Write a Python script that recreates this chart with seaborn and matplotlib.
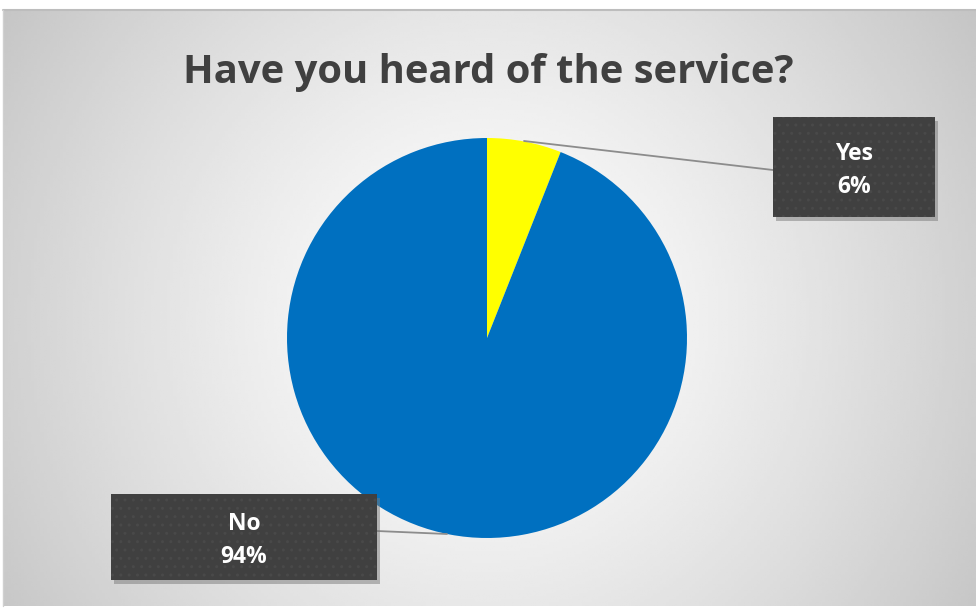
import numpy as np
import matplotlib
matplotlib.use('Agg')
import matplotlib.pyplot as plt
import seaborn as sns
from matplotlib.patches import Rectangle

# Dados
categorias = ['Yes', 'No']
percentuais = [6, 94]
cores = ['#FFFF00', '#0070C0']
titulo = 'Have you heard of the service?'

sns.set_style('white')
plt.rcParams['font.family'] = ['Open Sans', 'DejaVu Sans']

W, H = 976, 610
fig = plt.figure(figsize=(W / 100, H / 100), dpi=100)
fig.patch.set_facecolor('white')

# fundo com gradiente radial (area do grafico)
x0, y0, x1, y1 = 3, 10, 976, 606
ax = fig.add_axes([0, 0, 1, 1])
ax.set_xlim(0, W)
ax.set_ylim(0, H)
ax.axis('off')

xx, yy = np.meshgrid(np.linspace(x0, x1, 300), np.linspace(y0, y1, 200))
d = np.sqrt((xx - 487) ** 2 + (yy - 320) ** 2)
d = d / d.max()
grad = 255 - 58 * d ** 1.3
ax.imshow(grad, cmap='gray', vmin=0, vmax=255, extent=[x0, x1, H - y1, H - y0],
          origin='upper', aspect='auto', zorder=0, interpolation='bilinear')
ax.plot([x0, x1], [H - y0, H - y0], color='#bdbdbd', lw=1.5, zorder=1)
ax.plot([x0, x0], [H - y0, H - y1], color='#d0d0d0', lw=1, zorder=1)

# pizza
ax.pie(percentuais, colors=cores, startangle=90, counterclock=False,
       center=(487, H - 338), radius=200, frame=True,
       wedgeprops=dict(linewidth=0))
ax.set_xlim(0, W)
ax.set_ylim(0, H)
ax.set_aspect('auto')
ax.axis('off')

ax.text(488, H - 72, titulo, ha='center', va='center', fontsize=28.8,
        fontweight='bold', color='#404040', zorder=5)

# rotulos
caixas = {'Yes': (773, 117, 162, 100, 854, (524, 141), (773, 170)),
          'No': (111, 494, 266, 86, 244, (447, 534), (377, 531))}
for cat, pct in zip(categorias, percentuais):
    bx, by, bw, bh, tx, p_a, p_b = caixas[cat]
    ax.plot([p_a[0], p_b[0]], [H - p_a[1], H - p_b[1]], color='#8c8c8c', lw=1.3, zorder=3)
    ax.add_patch(Rectangle((bx + 3, H - by - bh - 4), bw, bh, facecolor='#7a7a7a',
                           alpha=0.5, lw=0, zorder=3))
    ax.add_patch(Rectangle((bx, H - by - bh), bw, bh, facecolor='#404040',
                           edgecolor='#494949', hatch='..', lw=0, zorder=4))
    cy = H - (by + bh / 2)
    ax.text(tx, cy + 13, cat, ha='center', va='center', fontsize=16.5,
            fontweight='bold', color='white', zorder=5)
    ax.text(tx, cy - 20, f'{pct}%', ha='center', va='center', fontsize=16.5,
            fontweight='bold', color='white', zorder=5)

fig.savefig('out.png', dpi=100)
